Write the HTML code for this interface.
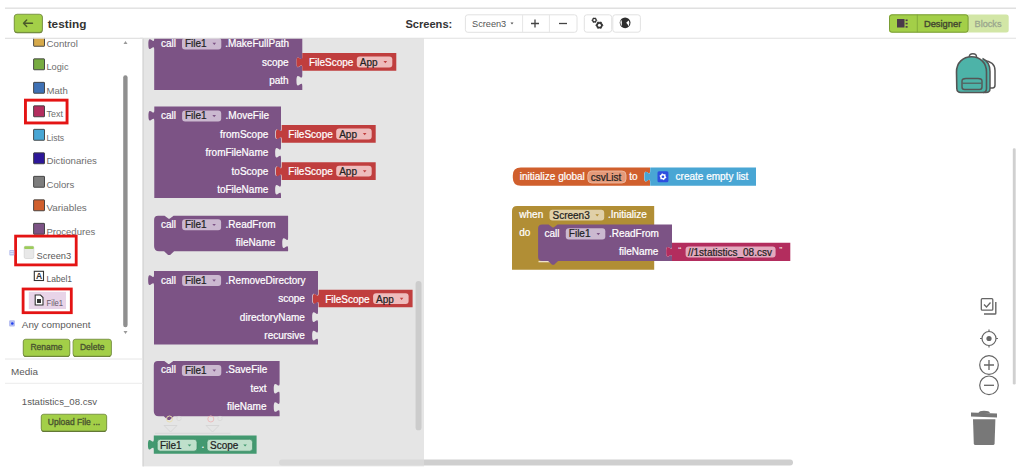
<!DOCTYPE html>
<html><head><meta charset="utf-8"><style>
html,body{margin:0;padding:0;background:#fff;}
body{width:1024px;height:476px;overflow:hidden;}
svg{display:block;font-family:"Liberation Sans", sans-serif;}
</style></head><body>
<svg width="1024" height="476" viewBox="0 0 1024 476">
<rect width="1024" height="476" fill="#fff"/>
<rect x="279" y="459.6" width="514" height="5.8" rx="2.9" fill="#cfcfcf" />
<rect x="142.5" y="38" width="281.5" height="428.4" fill="#dcdcdc" fill-opacity="0.75"/>
<rect x="142.5" y="38" width="1.4" height="428.4" fill="#d6d6d6"/>
<rect x="415.6" y="281" width="5.9" height="149.3" rx="2.9" fill="#cccccc" />
<path d="M154.2,35.0 L302.29999999999995,35.0 L302.29999999999995,56.949999999999996 c0,7.3 -5.84,-5.84 -5.84,5.475 s5.84,-1.825 5.84,5.475 L302.29999999999995,75.25 c0,7.3 -5.84,-5.84 -5.84,5.475 s5.84,-1.825 5.84,5.475 L302.29999999999995,90.0 L154.2,90.0 L154.2,49.6 c0,-7.3 -5.84,5.84 -5.84,-5.475 s5.84,1.825 5.84,-5.475 Z" fill="#7c5385"/>
<text x="161" y="47.2" font-size="10" fill="#fff" font-weight="normal" text-anchor="start" stroke="#fff" stroke-width="0.22">call</text>
<rect x="182" y="38.1" width="39.3" height="11.3" rx="3" fill="#cbb9d0" />
<text x="185" y="47.4" font-size="10" fill="#222" font-weight="normal" text-anchor="start" stroke="#222" stroke-width="0.22">File1</text>
<path d="M212.5,42.85 L216.10000000000002,42.85 L214.3,45.05 Z" fill="#7c5385"/>
<text x="225.2" y="47.2" font-size="10" fill="#fff" font-weight="normal" text-anchor="start" stroke="#fff" stroke-width="0.22">.MakeFullPath</text>
<text x="288.7" y="66.0" font-size="10" fill="#fff" font-weight="normal" text-anchor="end" stroke="#fff" stroke-width="0.22">scope</text>
<text x="288.7" y="84.3" font-size="10" fill="#fff" font-weight="normal" text-anchor="end" stroke="#fff" stroke-width="0.22">path</text>
<path d="M302.3,53.1 L396.3,53.1 L396.3,70.7 L302.3,70.7 L302.3,67.7 c0,-7.3 -5.84,5.84 -5.84,-5.475 s5.84,1.825 5.84,-5.475 Z" fill="#c03e3e"/>
<text x="308.90000000000003" y="66.1" font-size="10" fill="#fff" font-weight="normal" text-anchor="start" stroke="#fff" stroke-width="0.22">FileScope</text>
<rect x="356.8" y="56.6" width="35.5" height="10.8" rx="3" fill="#eebcbc" />
<text x="359.8" y="65.9" font-size="10" fill="#222" font-weight="normal" text-anchor="start" stroke="#222" stroke-width="0.22">App</text>
<path d="M383.5,61.1 L387.1,61.1 L385.3,63.3 Z" fill="#c03e3e"/>
<path d="M154.3,106.6 L281.0,106.6 L281.0,128.75 c0,7.3 -5.84,-5.84 -5.84,5.475 s5.84,-1.825 5.84,5.475 L281.0,147.25 c0,7.3 -5.84,-5.84 -5.84,5.475 s5.84,-1.825 5.84,5.475 L281.0,165.75 c0,7.3 -5.84,-5.84 -5.84,5.475 s5.84,-1.825 5.84,5.475 L281.0,184.25 c0,7.3 -5.84,-5.84 -5.84,5.475 s5.84,-1.825 5.84,5.475 L281.0,198.1 L154.3,198.1 L154.3,121.19999999999999 c0,-7.3 -5.84,5.84 -5.84,-5.475 s5.84,1.825 5.84,-5.475 Z" fill="#7c5385"/>
<text x="161" y="119" font-size="10" fill="#fff" font-weight="normal" text-anchor="start" stroke="#fff" stroke-width="0.22">call</text>
<rect x="182.1" y="110.5" width="39.1" height="11" rx="3" fill="#cbb9d0" />
<text x="185" y="119.3" font-size="10" fill="#222" font-weight="normal" text-anchor="start" stroke="#222" stroke-width="0.22">File1</text>
<path d="M212.39999999999998,115.1 L216.0,115.1 L214.2,117.3 Z" fill="#7c5385"/>
<text x="225.6" y="119" font-size="10" fill="#fff" font-weight="normal" text-anchor="start" stroke="#fff" stroke-width="0.22">.MoveFile</text>
<text x="268.3" y="137.8" font-size="10" fill="#fff" font-weight="normal" text-anchor="end" stroke="#fff" stroke-width="0.22">fromScope</text>
<text x="268.3" y="156.2" font-size="10" fill="#fff" font-weight="normal" text-anchor="end" stroke="#fff" stroke-width="0.22">fromFileName</text>
<text x="268.3" y="174.5" font-size="10" fill="#fff" font-weight="normal" text-anchor="end" stroke="#fff" stroke-width="0.22">toScope</text>
<text x="268.3" y="192.8" font-size="10" fill="#fff" font-weight="normal" text-anchor="end" stroke="#fff" stroke-width="0.22">toFileName</text>
<path d="M281.7,125.1 L375.7,125.1 L375.7,142.7 L281.7,142.7 L281.7,139.7 c0,-7.3 -5.84,5.84 -5.84,-5.475 s5.84,1.825 5.84,-5.475 Z" fill="#c03e3e"/>
<text x="288.3" y="138.1" font-size="10" fill="#fff" font-weight="normal" text-anchor="start" stroke="#fff" stroke-width="0.22">FileScope</text>
<rect x="336.2" y="128.6" width="35.5" height="10.8" rx="3" fill="#eebcbc" />
<text x="339.2" y="137.9" font-size="10" fill="#222" font-weight="normal" text-anchor="start" stroke="#222" stroke-width="0.22">App</text>
<path d="M362.9,133.1 L366.5,133.1 L364.7,135.3 Z" fill="#c03e3e"/>
<path d="M281.7,162.3 L375.7,162.3 L375.7,179.9 L281.7,179.9 L281.7,176.9 c0,-7.3 -5.84,5.84 -5.84,-5.475 s5.84,1.825 5.84,-5.475 Z" fill="#c03e3e"/>
<text x="288.3" y="175.3" font-size="10" fill="#fff" font-weight="normal" text-anchor="start" stroke="#fff" stroke-width="0.22">FileScope</text>
<rect x="336.2" y="165.8" width="35.5" height="10.8" rx="3" fill="#eebcbc" />
<text x="339.2" y="175.10000000000002" font-size="10" fill="#222" font-weight="normal" text-anchor="start" stroke="#222" stroke-width="0.22">App</text>
<path d="M362.9,170.3 L366.5,170.3 L364.7,172.50000000000003 Z" fill="#c03e3e"/>
<path d="M158.1,215.7 L164.6,215.7 L168.6,218.7 L169.6,218.7 L173.6,215.7 L288.1,215.7 L288.1,237.65 c0,7.3 -5.84,-5.84 -5.84,5.475 s5.84,-1.825 5.84,5.475 L288.1,251.29999999999998 L174.1,251.29999999999998 L170.1,255.1 L168.1,255.1 L164.1,251.29999999999998 L159.1,251.29999999999998 Q154.1,251.29999999999998 154.1,246.29999999999998 L154.1,219.7 Q154.1,215.7 158.1,215.7 Z" fill="#7c5385"/>
<text x="161" y="227.8" font-size="10" fill="#fff" font-weight="normal" text-anchor="start" stroke="#fff" stroke-width="0.22">call</text>
<rect x="182.1" y="219.3" width="39" height="11" rx="3" fill="#cbb9d0" />
<text x="185" y="228.1" font-size="10" fill="#222" font-weight="normal" text-anchor="start" stroke="#222" stroke-width="0.22">File1</text>
<path d="M212.29999999999998,223.9 L215.9,223.9 L214.1,226.10000000000002 Z" fill="#7c5385"/>
<text x="225.6" y="227.8" font-size="10" fill="#fff" font-weight="normal" text-anchor="start" stroke="#fff" stroke-width="0.22">.ReadFrom</text>
<text x="275.3" y="246.1" font-size="10" fill="#fff" font-weight="normal" text-anchor="end" stroke="#fff" stroke-width="0.22">fileName</text>
<path d="M154,271 L318,271 L318,293.15 c0,7.3 -5.84,-5.84 -5.84,5.475 s5.84,-1.825 5.84,5.475 L318,311.65 c0,7.3 -5.84,-5.84 -5.84,5.475 s5.84,-1.825 5.84,5.475 L318,330.15 c0,7.3 -5.84,-5.84 -5.84,5.475 s5.84,-1.825 5.84,5.475 L318,344.5 L154,344.5 L154,285.6 c0,-7.3 -5.84,5.84 -5.84,-5.475 s5.84,1.825 5.84,-5.475 Z" fill="#7c5385"/>
<text x="161" y="283.6" font-size="10" fill="#fff" font-weight="normal" text-anchor="start" stroke="#fff" stroke-width="0.22">call</text>
<rect x="182.1" y="275" width="39" height="11" rx="3" fill="#cbb9d0" />
<text x="185" y="283.9" font-size="10" fill="#222" font-weight="normal" text-anchor="start" stroke="#222" stroke-width="0.22">File1</text>
<path d="M212.29999999999998,279.6 L215.9,279.6 L214.1,281.8 Z" fill="#7c5385"/>
<text x="225.6" y="283.6" font-size="10" fill="#fff" font-weight="normal" text-anchor="start" stroke="#fff" stroke-width="0.22">.RemoveDirectory</text>
<text x="304.9" y="302.4" font-size="10" fill="#fff" font-weight="normal" text-anchor="end" stroke="#fff" stroke-width="0.22">scope</text>
<text x="304.9" y="320.7" font-size="10" fill="#fff" font-weight="normal" text-anchor="end" stroke="#fff" stroke-width="0.22">directoryName</text>
<text x="304.9" y="339" font-size="10" fill="#fff" font-weight="normal" text-anchor="end" stroke="#fff" stroke-width="0.22">recursive</text>
<path d="M318.6,289.7 L412.6,289.7 L412.6,307.3 L318.6,307.3 L318.6,304.3 c0,-7.3 -5.84,5.84 -5.84,-5.475 s5.84,1.825 5.84,-5.475 Z" fill="#c03e3e"/>
<text x="325.20000000000005" y="302.7" font-size="10" fill="#fff" font-weight="normal" text-anchor="start" stroke="#fff" stroke-width="0.22">FileScope</text>
<rect x="373.1" y="293.2" width="35.5" height="10.8" rx="3" fill="#eebcbc" />
<text x="376.1" y="302.5" font-size="10" fill="#222" font-weight="normal" text-anchor="start" stroke="#222" stroke-width="0.22">App</text>
<path d="M399.8,297.7 L403.40000000000003,297.7 L401.6,299.9 Z" fill="#c03e3e"/>
<path d="M157.8,361.1 L164.3,361.1 L168.3,364.1 L169.3,364.1 L173.3,361.1 L279.6,361.1 L279.6,383.25 c0,7.3 -5.84,-5.84 -5.84,5.475 s5.84,-1.825 5.84,5.475 L279.6,401.55 c0,7.3 -5.84,-5.84 -5.84,5.475 s5.84,-1.825 5.84,5.475 L279.6,416.20000000000005 L173.8,416.20000000000005 L169.8,420.00000000000006 L167.8,420.00000000000006 L163.8,416.20000000000005 L158.8,416.20000000000005 Q153.8,416.20000000000005 153.8,411.20000000000005 L153.8,365.1 Q153.8,361.1 157.8,361.1 Z" fill="#7c5385"/>
<text x="161" y="373.3" font-size="10" fill="#fff" font-weight="normal" text-anchor="start" stroke="#fff" stroke-width="0.22">call</text>
<rect x="181.9" y="365" width="39.4" height="11" rx="3" fill="#cbb9d0" />
<text x="185" y="373.6" font-size="10" fill="#222" font-weight="normal" text-anchor="start" stroke="#222" stroke-width="0.22">File1</text>
<path d="M212.5,369.6 L216.10000000000002,369.6 L214.3,371.8 Z" fill="#7c5385"/>
<text x="225.6" y="373.3" font-size="10" fill="#fff" font-weight="normal" text-anchor="start" stroke="#fff" stroke-width="0.22">.SaveFile</text>
<text x="266.5" y="392.4" font-size="10" fill="#fff" font-weight="normal" text-anchor="end" stroke="#fff" stroke-width="0.22">text</text>
<text x="266.5" y="410.4" font-size="10" fill="#fff" font-weight="normal" text-anchor="end" stroke="#fff" stroke-width="0.22">fileName</text>
<path d="M164,425.5 L177,425.5 L170.5,432 Z" fill="none" stroke="#d4d4d4" stroke-width="0.9"/>
<path d="M206,425.5 L219,425.5 L212.5,432 Z" fill="none" stroke="#d4d4d4" stroke-width="0.9"/>
<line x1="155" y1="433.3" x2="230.5" y2="433.3" stroke="#d8d8d8" stroke-width="1"/>
<circle cx="169.5" cy="419" r="3" fill="none" stroke="#eadfb0" stroke-width="1"/>
<circle cx="179" cy="418.5" r="2.2" fill="none" stroke="#d8d8d8" stroke-width="0.8"/>
<circle cx="210.8" cy="419" r="3" fill="none" stroke="#ecbcbc" stroke-width="1"/>
<circle cx="220" cy="418.5" r="2.2" fill="none" stroke="#d8d8d8" stroke-width="0.8"/>
<path d="M153.8,435.6 L256.6,435.6 L256.6,453.8 L153.8,453.8 L153.8,450.20000000000005 c0,-7.3 -5.84,5.84 -5.84,-5.475 s5.84,1.825 5.84,-5.475 Z" fill="#439970"/>
<rect x="157.2" y="439.3" width="39.8" height="11.9" rx="3" fill="#bfe0cb" stroke="#3a8a62" stroke-width="0.7" />
<text x="160" y="448.8" font-size="10" fill="#222" font-weight="normal" text-anchor="start" stroke="#222" stroke-width="0.22">File1</text>
<path d="M187.7,444.4 L191.3,444.4 L189.5,446.6 Z" fill="#439970"/>
<text x="201.5" y="448.3" font-size="10" fill="#fff" font-weight="normal" text-anchor="start" stroke="#fff" stroke-width="0.22">.</text>
<rect x="207" y="439.3" width="45.6" height="11.9" rx="3" fill="#bfe0cb" stroke="#3a8a62" stroke-width="0.7" />
<text x="210" y="448.8" font-size="10" fill="#222" font-weight="normal" text-anchor="start" stroke="#222" stroke-width="0.22">Scope</text>
<path d="M243.3,444.4 L246.9,444.4 L245.1,446.6 Z" fill="#439970"/>
<path d="M520.8,167.5 L650.0,167.5 L650.0,171.15 c0,7.3 -5.84,-5.84 -5.84,5.475 s5.84,-1.825 5.84,5.475 L650.0,185.8 L520.8,185.8 Q512.8,185.8 512.8,177.8 L512.8,175.5 Q512.8,167.5 520.8,167.5 Z" fill="#d05f2d"/>
<text x="519.8" y="180.3" font-size="10" fill="#fff" font-weight="normal" text-anchor="start" stroke="#fff" stroke-width="0.22">initialize global</text>
<rect x="587.8" y="171" width="38.2" height="12" rx="4" fill="#e49a7a" stroke="#f0c0a8" stroke-width="0.8" />
<text x="590.8" y="180.5" font-size="10" fill="#222" font-weight="normal" text-anchor="start" stroke="#222" stroke-width="0.22">csvList</text>
<text x="629.2" y="180.3" font-size="10" fill="#fff" font-weight="normal" text-anchor="start" stroke="#fff" stroke-width="0.22">to</text>
<path d="M650.2,167.5 L756.0,167.5 L756.0,185.8 L650.2,185.8 L650.2,182.1 c0,-7.3 -5.84,5.84 -5.84,-5.475 s5.84,1.825 5.84,-5.475 Z" fill="#49a6d4"/>
<rect x="657.5" y="171.3" width="10.9" height="10.9" rx="1.5" fill="#2d4fe0" />
<polygon points="666.43,177.68 664.86,178.66 663.88,180.23 662.25,179.36 660.40,179.30 660.34,177.45 659.47,175.82 661.04,174.84 662.02,173.27 663.65,174.14 665.50,174.20 665.56,176.05" fill="#fff"/>
<circle cx="662.95" cy="176.75" r="1.3" fill="#2d4fe0"/>
<text x="675.6" y="180.3" font-size="10" fill="#fff" font-weight="normal" text-anchor="start" stroke="#fff" stroke-width="0.22">create empty list</text>
<path d="M517,205.9 L654.2,205.9 L654.2,269.7 L512,269.7 L512,210.9 Q512,205.9 517,205.9 Z" fill="#b18e35"/>
<line x1="538.5" y1="261.6" x2="553" y2="261.6" stroke="#eee2c8" stroke-width="1.4"/>
<text x="519.3" y="217.6" font-size="10" fill="#fff" font-weight="normal" text-anchor="start" stroke="#fff" stroke-width="0.22">when</text>
<rect x="549.5" y="209.7" width="54.7" height="10.8" rx="3" fill="#e0d0a8" />
<text x="552.5" y="218.8" font-size="10" fill="#222" font-weight="normal" text-anchor="start" stroke="#222" stroke-width="0.22">Screen3</text>
<path d="M595.4000000000001,214.2 L599.0,214.2 L597.2,216.4 Z" fill="#b18e35"/>
<text x="607.9" y="217.6" font-size="10" fill="#fff" font-weight="normal" text-anchor="start" stroke="#fff" stroke-width="0.22">.Initialize</text>
<text x="519.3" y="236.1" font-size="10" fill="#fff" font-weight="normal" text-anchor="start" stroke="#fff" stroke-width="0.22">do</text>
<path d="M542.1,224.4 L548.6,224.4 L552.6,227.4 L553.6,227.4 L557.6,224.4 L672.0,224.4 L672.0,246.35000000000002 c0,7.3 -5.84,-5.84 -5.84,5.475 s5.84,-1.825 5.84,5.475 L672.0,261.0 L558.1,261.0 L554.1,264.8 L552.1,264.8 L548.1,261.0 L542.1,261.0 Q538.1,261.0 538.1,257.0 L538.1,228.4 Q538.1,224.4 542.1,224.4 Z" fill="#7c5385"/>
<text x="544.5" y="236.6" font-size="10" fill="#fff" font-weight="normal" text-anchor="start" stroke="#fff" stroke-width="0.22">call</text>
<rect x="565.8" y="228.2" width="39.5" height="11.3" rx="3" fill="#cbb9d0" />
<text x="568.8" y="237.2" font-size="10" fill="#222" font-weight="normal" text-anchor="start" stroke="#222" stroke-width="0.22">File1</text>
<path d="M596.5,232.95 L600.0999999999999,232.95 L598.3,235.15 Z" fill="#7c5385"/>
<text x="608.9" y="236.6" font-size="10" fill="#fff" font-weight="normal" text-anchor="start" stroke="#fff" stroke-width="0.22">.ReadFrom</text>
<text x="658.4" y="255.1" font-size="10" fill="#fff" font-weight="normal" text-anchor="end" stroke="#fff" stroke-width="0.22">fileName</text>
<path d="M672,242.8 L790.3,242.8 L790.3,261.1 L672,261.1 L672,257.40000000000003 c0,-7.3 -5.84,5.84 -5.84,-5.475 s5.84,1.825 5.84,-5.475 Z" fill="#b32d5e"/>
<text x="678.3" y="253.2" font-size="9" fill="#f4e0e8" font-weight="normal" text-anchor="start" >“</text>
<rect x="685.6" y="246.6" width="90" height="10.9" rx="3" fill="#e3a9be" />
<text x="688" y="255.6" font-size="10" fill="#222" font-weight="normal" text-anchor="start" stroke="#222" stroke-width="0.22">//1statistics_08.csv</text>
<text x="779.2" y="253.2" font-size="9" fill="#f4e0e8" font-weight="normal" text-anchor="start" >”</text>
<rect x="0" y="0" width="1024" height="38" rx="0" fill="#fff" />
<line x1="5" y1="8.3" x2="1016" y2="8.3" stroke="#e0e0e0" stroke-width="1.4"/>
<line x1="5" y1="38.3" x2="1016" y2="38.3" stroke="#e0e0e0" stroke-width="1.1"/>
<rect x="14.2" y="14.6" width="28.4" height="18.6" rx="3" fill="#5f7430" />
<rect x="14.2" y="14.2" width="28.2" height="18.2" rx="3" fill="#a3cf48" stroke="#6f8440" stroke-width="0.7" />
<path d="M23.5,23.3 L32.5,23.3 M23.5,23.3 L26.7,20.1 M23.5,23.3 L26.7,26.5" stroke="#4a5a2a" stroke-width="1.4" fill="none" stroke-linecap="round"/>
<text x="47.7" y="27.7" font-size="11.8" fill="#333" font-weight="bold" text-anchor="start" >testing</text>
<text x="405.4" y="28.2" font-size="11.1" fill="#333" font-weight="bold" text-anchor="start" >Screens:</text>
<rect x="465.4" y="14.8" width="111.6" height="17.5" rx="2.5" fill="#fff" stroke="#e2e2e2" stroke-width="1" />
<line x1="522.6" y1="15" x2="522.6" y2="32" stroke="#e6e6e6"/>
<line x1="549.4" y1="15" x2="549.4" y2="32" stroke="#e6e6e6"/>
<text x="472" y="26.8" font-size="9.2" fill="#555" font-weight="normal" text-anchor="start" >Screen3</text>
<path d="M510.5,22.5 L513.5,22.5 L512,24.5 Z" fill="#555"/>
<path d="M531,23.5 L539,23.5 M535,19.5 L535,27.5" stroke="#444" stroke-width="1.3"/>
<path d="M559,23.5 L567,23.5" stroke="#444" stroke-width="1.3"/>
<rect x="584.3" y="14.8" width="27.4" height="17.4" rx="2.5" fill="#fff" stroke="#e2e2e2" stroke-width="1" />
<rect x="612.8" y="14.8" width="27.6" height="17.4" rx="2.5" fill="#fff" stroke="#e2e2e2" stroke-width="1" />
<polygon points="597.00,20.20 596.22,21.25 595.70,22.45 594.40,22.30 593.10,22.45 592.58,21.25 591.80,20.20 592.58,19.15 593.10,17.95 594.40,18.10 595.70,17.95 596.22,19.15" fill="#333" stroke="#333" stroke-width="0.6" stroke-linejoin="round"/>
<circle cx="594.4" cy="20.2" r="1.1" fill="#fff"/>
<polygon points="603.00,25.20 601.91,26.65 601.20,28.32 599.40,28.10 597.60,28.32 596.89,26.65 595.80,25.20 596.89,23.75 597.60,22.08 599.40,22.30 601.20,22.08 601.91,23.75" fill="#333" stroke="#333" stroke-width="0.8" stroke-linejoin="round"/>
<circle cx="599.4" cy="25.2" r="1.5" fill="#fff"/>
<circle cx="625.1" cy="22.8" r="5.4" fill="#2e2e2e"/>
<path d="M621.2,19.8 Q622.5,22.5 621.8,24.5 Q621,26 622.5,27.2 Q620.3,25.5 620.3,22.6 Q620.4,20.8 621.2,19.8 Z" fill="#fff"/>
<path d="M626.2,22.8 Q627.5,21.5 628.8,20.6 Q630.3,23.5 628.6,26.4 Q628.3,24.8 626.2,22.8 Z" fill="#fff"/>
<rect x="889.1" y="14.4" width="119.6" height="18" rx="2.5" fill="#d2e6a6" />
<rect x="889.1" y="14.4" width="79.2" height="18" rx="2.5" fill="#a3cf48" />
<rect x="889.5" y="14.8" width="78.6" height="17.4" rx="2.5" fill="none" stroke="#6f8f2f" stroke-width="0.8"/>
<line x1="917.3" y1="14.6" x2="917.3" y2="32.2" stroke="#7da33a" stroke-width="0.8"/>
<rect x="897" y="19" width="7.5" height="8.5" rx="0" fill="#4a3a4a" />
<rect x="905.6" y="19.5" width="2" height="1.6" rx="0" fill="#4a3a4a" />
<rect x="905.6" y="22.8" width="2" height="1.6" rx="0" fill="#4a3a4a" />
<rect x="905.6" y="26.1" width="2" height="1.6" rx="0" fill="#4a3a4a" />
<text x="923.9" y="26.6" font-size="9.35" fill="#444a30" font-weight="normal" text-anchor="start" stroke="#444a30" stroke-width="0.4">Designer</text>
<text x="974.5" y="26.6" font-size="9.2" fill="#9aa68e" font-weight="normal" text-anchor="start" stroke="#9aa68e" stroke-width="0.3">Blocks</text>
<rect x="33.6" y="35.35" width="10.9" height="10.9" rx="0.5" fill="#d6a94a" stroke="#3a3a3a" stroke-width="0.9" />
<text x="46.5" y="46.7" font-size="9.8" fill="#6e6e6e" font-weight="normal" text-anchor="start" textLength="31.3" lengthAdjust="spacingAndGlyphs" >Control</text>
<rect x="33.6" y="58.85" width="10.9" height="10.9" rx="0.5" fill="#77ab41" stroke="#3a3a3a" stroke-width="0.9" />
<text x="46.5" y="70.2" font-size="9.8" fill="#6e6e6e" font-weight="normal" text-anchor="start" textLength="22" lengthAdjust="spacingAndGlyphs" >Logic</text>
<rect x="33.6" y="82.35000000000001" width="10.9" height="10.9" rx="0.5" fill="#3f71b5" stroke="#3a3a3a" stroke-width="0.9" />
<text x="46.5" y="93.7" font-size="9.8" fill="#6e6e6e" font-weight="normal" text-anchor="start" textLength="21.2" lengthAdjust="spacingAndGlyphs" >Math</text>
<rect x="33.6" y="105.85000000000001" width="10.9" height="10.9" rx="0.5" fill="#b32d5e" stroke="#3a3a3a" stroke-width="0.9" />
<text x="46.5" y="117.2" font-size="9.8" fill="#6e6e6e" font-weight="normal" text-anchor="start" textLength="16.4" lengthAdjust="spacingAndGlyphs" >Text</text>
<rect x="33.6" y="129.35" width="10.9" height="10.9" rx="0.5" fill="#49a6d4" stroke="#3a3a3a" stroke-width="0.9" />
<text x="46.5" y="140.70000000000002" font-size="9.8" fill="#6e6e6e" font-weight="normal" text-anchor="start" textLength="17.6" lengthAdjust="spacingAndGlyphs" >Lists</text>
<rect x="33.6" y="152.85" width="10.9" height="10.9" rx="0.5" fill="#2d1799" stroke="#3a3a3a" stroke-width="0.9" />
<text x="46.5" y="164.20000000000002" font-size="9.8" fill="#6e6e6e" font-weight="normal" text-anchor="start" textLength="50.4" lengthAdjust="spacingAndGlyphs" >Dictionaries</text>
<rect x="33.6" y="176.35" width="10.9" height="10.9" rx="0.5" fill="#7d7d7d" stroke="#3a3a3a" stroke-width="0.9" />
<text x="46.5" y="187.70000000000002" font-size="9.8" fill="#6e6e6e" font-weight="normal" text-anchor="start" textLength="27.7" lengthAdjust="spacingAndGlyphs" >Colors</text>
<rect x="33.6" y="199.85" width="10.9" height="10.9" rx="0.5" fill="#d05f2d" stroke="#3a3a3a" stroke-width="0.9" />
<text x="46.5" y="211.20000000000002" font-size="9.8" fill="#6e6e6e" font-weight="normal" text-anchor="start" textLength="40.3" lengthAdjust="spacingAndGlyphs" >Variables</text>
<rect x="33.6" y="223.35" width="10.9" height="10.9" rx="0.5" fill="#7c5385" stroke="#3a3a3a" stroke-width="0.9" />
<text x="46.5" y="234.70000000000002" font-size="9.8" fill="#6e6e6e" font-weight="normal" text-anchor="start" textLength="48.7" lengthAdjust="spacingAndGlyphs" >Procedures</text>
<rect x="0" y="8.9" width="140" height="29" rx="0" fill="#fff" />
<line x1="5" y1="38.3" x2="143" y2="38.3" stroke="#e0e0e0" stroke-width="1.1"/>
<rect x="14.2" y="14.6" width="28.4" height="18.6" rx="3" fill="#5f7430" />
<rect x="14.2" y="14.2" width="28.2" height="18.2" rx="3" fill="#a3cf48" stroke="#6f8440" stroke-width="0.7" />
<path d="M23.5,23.3 L32.5,23.3 M23.5,23.3 L26.7,20.1 M23.5,23.3 L26.7,26.5" stroke="#4a5a2a" stroke-width="1.4" fill="none" stroke-linecap="round"/>
<text x="47.7" y="27.7" font-size="11.8" fill="#333" font-weight="bold" text-anchor="start" >testing</text>
<rect x="25.45" y="100.15" width="41.6" height="22.8" fill="none" stroke="#e41414" stroke-width="2.9"/>
<rect x="15.6" y="236.1" width="60.6" height="28.8" fill="none" stroke="#e41414" stroke-width="2.8"/>
<rect x="23.1" y="289.0" width="48.2" height="23.7" fill="none" stroke="#e41414" stroke-width="2.8"/>
<rect x="9.3" y="249.9" width="5" height="5.6" rx="0.8" fill="#b8c0ee" />
<path d="M10.2,251.6 L13.5,251.6 M10.2,253.6 L13.5,253.6" stroke="#e8f0ff" stroke-width="0.8"/>
<rect x="24.2" y="246.2" width="9.6" height="12.3" rx="1.5" fill="#e8e8e8" stroke="#cccccc" stroke-width="0.6" />
<rect x="24.2" y="246.2" width="9.6" height="2.8" rx="1" fill="#9ccc5a" />
<text x="36.6" y="258.9" font-size="9.6" fill="#5a5a5a" font-weight="normal" text-anchor="start" textLength="34.6" lengthAdjust="spacingAndGlyphs" >Screen3</text>
<rect x="34.3" y="271.3" width="9.2" height="9.2" rx="0" fill="#fff" stroke="#333" stroke-width="1.1" />
<text x="36.1" y="279.4" font-size="8.5" fill="#333" font-weight="bold" text-anchor="start" >A</text>
<text x="46.5" y="282.2" font-size="9.6" fill="#5a5a5a" font-weight="normal" text-anchor="start" textLength="25.5" lengthAdjust="spacingAndGlyphs" >Label1</text>
<rect x="28.8" y="291.8" width="37.2" height="17.2" rx="0" fill="#e8d4e8" />
<path d="M35.2,295 L40.5,295 L43,297.5 L43,305 L35.2,305 Z" fill="#fff" stroke="#333" stroke-width="1.1"/>
<rect x="37" y="299" width="4" height="4" rx="0" fill="#333" />
<text x="46.5" y="305.7" font-size="9.6" fill="#6a5a6a" font-weight="normal" text-anchor="start" textLength="16.6" lengthAdjust="spacingAndGlyphs" >File1</text>
<rect x="9.1" y="320.3" width="5.8" height="6.2" rx="1" fill="#b4bcf0" />
<circle cx="12.3" cy="323.5" r="1.3" fill="#2040f0"/>
<text x="21.8" y="328" font-size="9.8" fill="#5a5a5a" font-weight="normal" text-anchor="start" textLength="68.6" lengthAdjust="spacingAndGlyphs" >Any component</text>
<rect x="123.2" y="75.3" width="4.4" height="252" rx="2.2" fill="#8f8f8f" />
<path d="M123.5,44 L127.5,44 L125.5,41 Z" fill="#999"/>
<path d="M123.5,331 L127.5,331 L125.5,334 Z" fill="#999"/>
<rect x="23.2" y="339.5" width="46.7" height="17.6" rx="2.8" fill="#5f7430" />
<rect x="23.2" y="339.2" width="46.7" height="17.0" rx="2.5" fill="#a3cf48" stroke="#6f8440" stroke-width="0.7" />
<text x="46.55" y="350" font-size="8.5" fill="#4a5530" font-weight="normal" text-anchor="middle" stroke="#4a5530" stroke-width="0.35">Rename</text>
<rect x="73" y="339.5" width="38.4" height="17.6" rx="2.8" fill="#5f7430" />
<rect x="73" y="339.2" width="38.4" height="17.0" rx="2.5" fill="#a3cf48" stroke="#6f8440" stroke-width="0.7" />
<text x="92.2" y="350" font-size="8.5" fill="#4a5530" font-weight="normal" text-anchor="middle" stroke="#4a5530" stroke-width="0.35">Delete</text>
<line x1="5" y1="359" x2="143" y2="359" stroke="#e6e6e6" stroke-width="1"/>
<text x="11" y="374.8" font-size="9.9" fill="#5a5a5a" font-weight="normal" text-anchor="start" textLength="26.9" lengthAdjust="spacingAndGlyphs" >Media</text>
<line x1="5" y1="383.3" x2="143" y2="383.3" stroke="#ececec" stroke-width="1"/>
<text x="21.8" y="405" font-size="9.6" fill="#5a5a5a" font-weight="normal" text-anchor="start" textLength="75.3" lengthAdjust="spacingAndGlyphs" >1statistics_08.csv</text>
<rect x="41.2" y="414.6" width="65.5" height="17.4" rx="2.8" fill="#5f7430" />
<rect x="41.2" y="414.2" width="65.5" height="16.8" rx="2.5" fill="#a3cf48" stroke="#6f8440" stroke-width="0.7" />
<text x="74" y="425.3" font-size="8.5" fill="#4a5530" font-weight="normal" text-anchor="middle" stroke="#4a5530" stroke-width="0.35">Upload File ...</text>
<path d="M984,60.5 C990.5,61 995,64.5 995,70.5 L995,85 Q995,88 992.5,88 L989,88" fill="#fff" stroke="#555" stroke-width="1.5"/>
<path d="M982.5,58.5 C987,60.5 990,65 990,71.5 L990,88.5 Q990,92.5 986,92.5 L983,92.5" fill="#4db3a8" stroke="#555" stroke-width="1.5"/>
<path d="M961,92.5 Q957,92.5 956.8,88.5 L956.5,72 C956.5,62.5 963,56.8 971.5,56.8 C980,56.8 986.5,62.5 986.5,72 L986.5,88.5 Q986.5,92.5 982.5,92.5 Z" fill="#4db3a8" stroke="#555" stroke-width="1.6"/>
<path d="M969.3,57 C969.3,52.8 976.5,52.8 976.5,57" fill="none" stroke="#555" stroke-width="1.5"/>
<path d="M962,81 Q962,78.5 966,78.5 L978,78.5 Q982,78.5 982,81 L982,87 Q982,89.5 979.5,89.5 L964.5,89.5 Q962,89.5 962,87 Z" fill="#4db3a8" stroke="#555" stroke-width="1.4"/>
<line x1="962.5" y1="83.2" x2="981.5" y2="83.2" stroke="#555" stroke-width="1.1"/>
<rect x="1012.8" y="148.3" width="2.9" height="236.3" rx="1.4" fill="#d0d0d0" />
<rect x="981.3" y="298.7" width="11.5" height="11.5" rx="1" fill="none" stroke="#666" stroke-width="1.3"/>
<path d="M995.8,302 L995.8,313.2 Q995.8,314 995,314 L984,314" fill="none" stroke="#666" stroke-width="1.4"/>
<path d="M984,304.5 L986.5,307 L990.5,302.5" fill="none" stroke="#666" stroke-width="1.3"/>
<circle cx="989" cy="338.5" r="7" fill="none" stroke="#666" stroke-width="1.2"/>
<circle cx="989" cy="338.5" r="2.6" fill="#666"/>
<path d="M989,329.5 L989,331.5 M989,345.5 L989,347.5 M980,338.5 L982,338.5 M996,338.5 L998,338.5" stroke="#666" stroke-width="1.2"/>
<circle cx="989" cy="365" r="9.3" fill="none" stroke="#666" stroke-width="1.2"/>
<path d="M984,365 L994,365 M989,360 L989,370" stroke="#666" stroke-width="1.3"/>
<circle cx="989" cy="385.3" r="9.3" fill="none" stroke="#666" stroke-width="1.2"/>
<path d="M984,385.3 L994,385.3" stroke="#666" stroke-width="1.3"/>
<path d="M971,412.5 L997,413.5 L997,417.5 L971,416.5 Z" fill="#777"/>
<path d="M978.5,413 Q979,410.8 984,410.8 Q989.5,410.8 990,413.2 Z" fill="#777"/>
<path d="M973,419.3 L995.4,419.3 L994.6,443.5 Q994.5,445 993,445 L975.4,445 Q973.9,445 973.8,443.5 Z" fill="#787878"/>
</svg>
</body></html>
